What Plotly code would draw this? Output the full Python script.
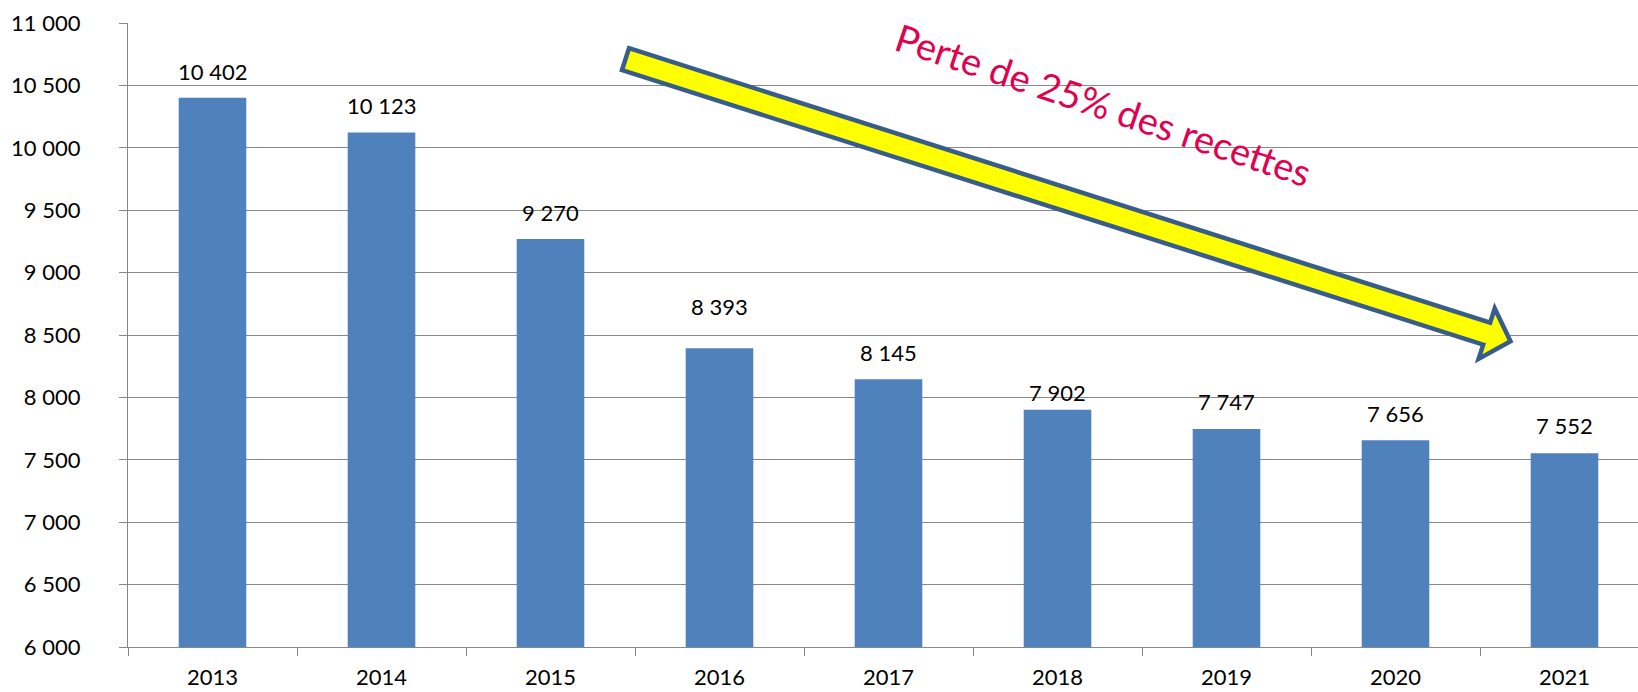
import math
import plotly.graph_objects as go

years = ["2013", "2014", "2015", "2016", "2017", "2018", "2019", "2020", "2021"]
recettes = [10402, 10123, 9270, 8393, 8145, 7902, 7747, 7656, 7552]
y_ticks = [6000, 6500, 7000, 7500, 8000, 8500, 9000, 9500, 10000, 10500, 11000]
arrow_label = "Perte de 25% des recettes"

# vertical offset (px) of each value label above its bar, as placed in the original
label_offsets_px = [26, 27, 26, 41.5, 26.5, 17.5, 27.5, 27, 27.5]


def fmt(v):
    return f"{v:,}".replace(",", " ")


W, H = 1638, 692
L, T, B = 128, 22.5, 45
PW = W - L
PH = H - T - B
cat_px = 169.0

fig = go.Figure()
fig.add_trace(go.Bar(
    x=years, y=recettes, width=0.4,
    marker=dict(color="#4F81BD", line=dict(width=0)),
    hoverinfo="x+y",
))

for i, (v, off) in enumerate(zip(recettes, label_offsets_px)):
    fig.add_annotation(x=i, y=v, xref="x", yref="y", text=fmt(v), showarrow=False,
                       xanchor="center", yanchor="middle", yshift=off,
                       font=dict(family="Lato", size=22, color="#000000"))

# arrow geometry in pixel space, converted to paper coords
tail = (625.5, 58.7)
tip = (1510.5, 341.0)
dx, dy = tip[0] - tail[0], tip[1] - tail[1]
ln = math.hypot(dx, dy)
ux, uy = dx / ln, dy / ln
nx, ny = -uy, ux
sw, hw, hl = 11.5, 26.5, 25.0
base = (tip[0] - ux * hl, tip[1] - uy * hl)
pts = [
    (tail[0] - nx * sw, tail[1] - ny * sw),
    (base[0] - nx * sw, base[1] - ny * sw),
    (base[0] - nx * hw, base[1] - ny * hw),
    tip,
    (base[0] + nx * hw, base[1] + ny * hw),
    (base[0] + nx * sw, base[1] + ny * sw),
    (tail[0] + nx * sw, tail[1] + ny * sw),
]


def to_paper(p):
    return ((p[0] - L) / PW, (H - B - p[1]) / PH)


pp = [to_paper(p) for p in pts]
path = "M " + " L ".join(f"{x:.5f},{y:.5f}" for x, y in pp) + " Z"
fig.add_shape(type="path", path=path, xref="paper", yref="paper",
              fillcolor="#FFFF00", line=dict(color="#385D8A", width=4.5),
              layer="above")

cx, cy = to_paper((1103, 104))
fig.add_annotation(x=cx, y=cy, xref="paper", yref="paper", text=arrow_label,
                   showarrow=False, textangle=18.5, xanchor="center", yanchor="middle",
                   font=dict(family="Lato", size=38, color="#E2004F"))

fig.update_layout(
    width=W, height=H,
    margin=dict(l=L, r=0, t=T, b=B, pad=0, autoexpand=False),
    paper_bgcolor="white", plot_bgcolor="white",
    showlegend=False,
    font=dict(family="Lato", size=22, color="#000000"),
    bargap=0.6,
)
fig.update_xaxes(
    type="category", automargin=False,
    range=[-0.5, -0.5 + PW / cat_px],
    showline=True, linecolor="#888888", linewidth=1.3,
    ticks="outside", ticklen=8, tickcolor="#888888", tickwidth=1.3,
    tickson="boundaries", showgrid=False,
    tickfont=dict(family="Lato", size=22, color="#000000"),
    ticklabelstandoff=10,
)
fig.update_yaxes(
    automargin=False,
    range=[6000, 11000],
    tickvals=y_ticks, ticktext=[fmt(v) for v in y_ticks],
    showline=True, linecolor="#888888", linewidth=1.3,
    ticks="outside", ticklen=8, tickcolor="#888888", tickwidth=1.3,
    showgrid=True, gridcolor="#888888", gridwidth=1.3,
    zeroline=False,
    tickfont=dict(family="Lato", size=22, color="#000000"),
    ticklabelstandoff=34,
)

fig.write_html("out.html", config={"displayModeBar": False},
               post_script="document.body.style.margin='0';document.body.style.overflow='hidden';")
